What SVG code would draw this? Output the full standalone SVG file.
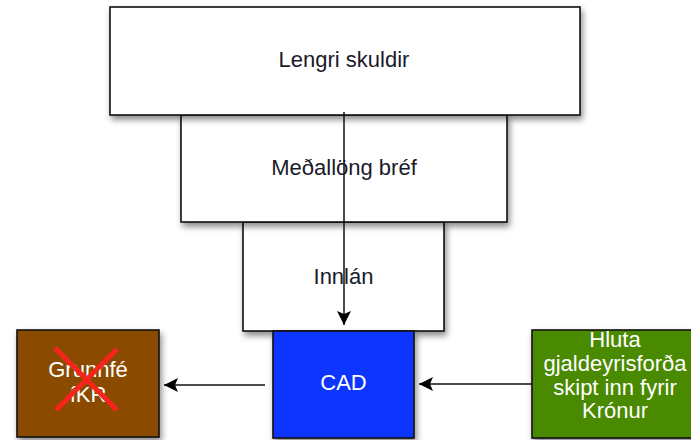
<svg xmlns="http://www.w3.org/2000/svg" width="691" height="440" viewBox="0 0 691 440">
<defs>
<filter id="sh" x="-10%" y="-10%" width="130%" height="140%">
<feDropShadow dx="2" dy="4" stdDeviation="3" flood-color="#000" flood-opacity="0.45"/>
</filter>
<marker id="ah" viewBox="0 0 14 14" refX="14" refY="7" markerWidth="15" markerHeight="14" markerUnits="userSpaceOnUse" orient="auto">
<path d="M0,0 L14,7 L0,14 L3,7 Z" fill="#000"/>
</marker>
<style>
.box{stroke:#111;stroke-width:1.6}
.t{font-family:"Liberation Sans",Arial,sans-serif;font-size:22px;text-anchor:middle}
.dark{fill:#1a1a2a}
.light{fill:#fff}
.conn{fill:none;stroke:#111;stroke-width:1.5}
</style>
</defs>
<g id="node-innlan">
<rect class="box" x="243" y="222" width="201" height="109" fill="#fff" filter="url(#sh)"/>
<text class="t dark" x="343.5" y="284">Innlán</text>
</g>
<g id="node-medallong">
<rect class="box" x="181" y="115" width="326" height="107" fill="#fff" filter="url(#sh)"/>
<text class="t dark" x="344" y="175">Meðallöng bréf</text>
</g>
<g id="node-lengri">
<rect class="box" x="110" y="7" width="470" height="108" fill="#fff" filter="url(#sh)"/>
<text class="t dark" x="344" y="67">Lengri skuldir</text>
</g>
<g id="node-cad">
<rect class="box" x="273" y="331" width="141" height="107" fill="#0a35fd" filter="url(#sh)"/>
<text class="t light" x="343.5" y="390">CAD</text>
</g>
<g id="node-grunnfe">
<rect class="box" x="17" y="330" width="142" height="107" fill="#8a4b00" filter="url(#sh)"/>
<text class="t light" x="88" y="377">Grunnfé</text>
<text class="t light" x="88" y="402">íKR</text>
<path d="M55,348 L117,410 M117,349 L56,410" stroke="#f5241c" stroke-width="5" fill="none"/>
</g>
<g id="node-hluta">
<rect class="box" x="532" y="330" width="166" height="108" fill="#4a8a00" filter="url(#sh)"/>
<text class="t light" x="615" y="347">Hluta</text>
<text class="t light" x="615" y="371">gjaldeyrisforða</text>
<text class="t light" x="615" y="395">skipt inn fyrir</text>
<text class="t light" x="615" y="418">Krónur</text>
</g>
<g id="connectors">
<line class="conn" x1="344" y1="112" x2="344" y2="325" marker-end="url(#ah)"/>
<line class="conn" x1="265" y1="385" x2="164" y2="385" stroke="#555" marker-end="url(#ah)"/>
<line class="conn" x1="532" y1="384" x2="419" y2="384" marker-end="url(#ah)"/>
</g>
</svg>
